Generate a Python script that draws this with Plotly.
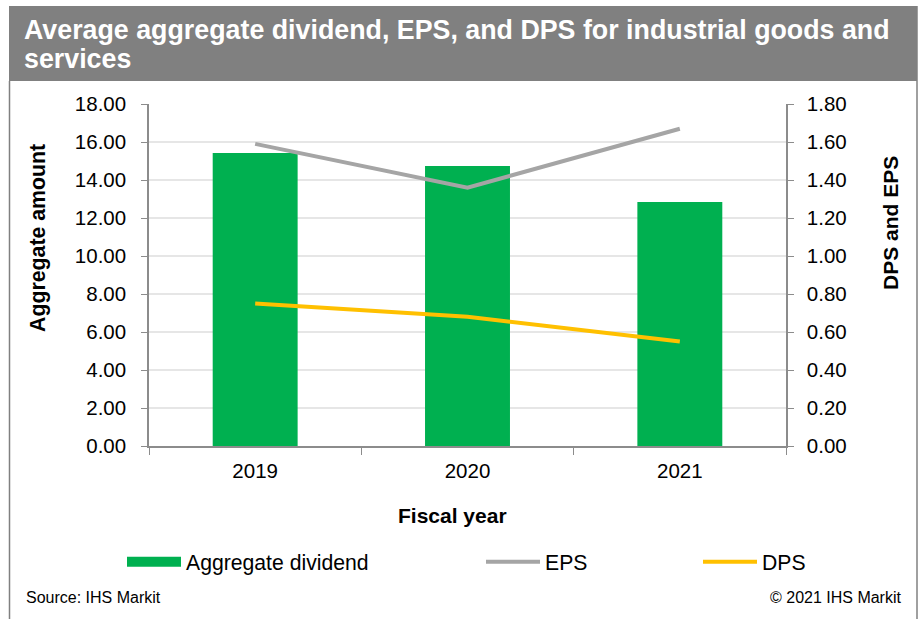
import plotly.graph_objects as go

# Fiscal years and series values
years = ["2019", "2020", "2021"]
aggregate_dividend = [15.42, 14.74, 12.84]
eps = [1.59, 1.36, 1.67]
dps = [0.75, 0.68, 0.55]

left_ticks = [0, 2, 4, 6, 8, 10, 12, 14, 16, 18]
right_ticks = [0, 0.2, 0.4, 0.6, 0.8, 1.0, 1.2, 1.4, 1.6, 1.8]

W, H = 922, 619
L, R, T, B = 149, 136, 104, 173
PW, PH = W - L - R, H - T - B

GREEN = "#00B050"
GREY = "#A5A5A5"
YELLOW = "#FFC000"
AXIS = "#8C8C8C"
FONT = "Liberation Sans, Arial, sans-serif"


def px(xp):
    return (xp - L) / PW


def py(yp):
    return (H - B - yp) / PH


fig = go.Figure()

fig.add_trace(go.Bar(
    x=years, y=aggregate_dividend, name="Aggregate dividend",
    marker=dict(color=GREEN, line=dict(width=0)), width=0.4,
    showlegend=False, hoverinfo="x+y",
))
# legend entry for the bars, drawn as a wide block
fig.add_trace(go.Scatter(
    x=[None], y=[None], mode="lines", name="Aggregate dividend",
    line=dict(color=GREEN, width=12), legend="legend",
))
fig.add_trace(go.Scatter(
    x=years, y=eps, name="EPS", mode="lines", yaxis="y2",
    line=dict(color=GREY, width=4), legend="legend2",
))
fig.add_trace(go.Scatter(
    x=years, y=dps, name="DPS", mode="lines", yaxis="y2",
    line=dict(color=YELLOW, width=4), legend="legend3",
))

legend_common = dict(
    orientation="h", xanchor="left", yanchor="middle",
    bgcolor="rgba(0,0,0,0)", font=dict(family=FONT, size=21.2, color="#000"),
    itemwidth=54,
)

shapes = [
    # header band
    dict(type="rect", xref="paper", yref="paper",
         x0=px(9), x1=px(917), y0=py(81), y1=py(6),
         fillcolor="#808080", line=dict(width=0), layer="below"),
    # frame sides
    dict(type="line", xref="paper", yref="paper",
         x0=px(9.5), x1=px(9.5), y0=py(81), y1=py(619),
         line=dict(color="#808080", width=1.5)),
    dict(type="line", xref="paper", yref="paper",
         x0=px(917), x1=px(917), y0=py(6), y1=py(619),
         line=dict(color="#808080", width=1.5)),
]

annotations = [
    dict(text="<b>Average aggregate dividend, EPS, and DPS for industrial goods and</b>",
         xref="paper", yref="paper", x=px(22), y=py(30), xanchor="left", yanchor="middle",
         showarrow=False, font=dict(family=FONT, size=26.8, color="white")),
    dict(text="<b>services</b>",
         xref="paper", yref="paper", x=px(22), y=py(59), xanchor="left", yanchor="middle",
         showarrow=False, font=dict(family=FONT, size=26.8, color="white")),
    dict(text="<b>Aggregate amount</b>", textangle=-90,
         xref="paper", yref="paper", x=px(38), y=py(238), xanchor="center", yanchor="middle",
         showarrow=False, font=dict(family=FONT, size=21.3, color="#000")),
    dict(text="<b>DPS and EPS</b>", textangle=-90,
         xref="paper", yref="paper", x=px(890), y=py(223), xanchor="center", yanchor="middle",
         showarrow=False, font=dict(family=FONT, size=21, color="#000")),
    dict(text="<b>Fiscal year</b>",
         xref="paper", yref="paper", x=px(452), y=py(515), xanchor="center", yanchor="middle",
         showarrow=False, font=dict(family=FONT, size=21, color="#000")),
    dict(text="Source: IHS Markit",
         xref="paper", yref="paper", x=px(24), y=py(597), xanchor="left", yanchor="middle",
         showarrow=False, font=dict(family=FONT, size=16, color="#000")),
    dict(text="© 2021 IHS Markit",
         xref="paper", yref="paper", x=px(904), y=py(597), xanchor="right", yanchor="middle",
         showarrow=False, font=dict(family=FONT, size=16, color="#000")),
]

fig.update_layout(
    width=W, height=H,
    margin=dict(l=L, r=R, t=T, b=B, autoexpand=False),
    paper_bgcolor="white", plot_bgcolor="white",
    bargap=0.6,
    font=dict(family=FONT, size=20, color="#000"),
    xaxis=dict(
        type="category", showline=True, linecolor=AXIS, linewidth=1.5,
        ticks="outside", tickson="boundaries", ticklen=7, tickcolor=AXIS,
        showgrid=False, tickfont=dict(size=20.5), ticklabelstandoff=6,
    ),
    yaxis=dict(
        range=[0, 18], tickvals=left_ticks, tickformat=".2f",
        showline=True, linecolor=AXIS, linewidth=1.5,
        ticks="outside", ticklen=6, tickcolor=AXIS,
        showgrid=True, gridcolor="#E6E6E6", gridwidth=1.5, zeroline=False,
        tickfont=dict(size=20.5), ticklabelstandoff=11,
    ),
    yaxis2=dict(
        range=[0, 1.8], tickvals=right_ticks, tickformat=".2f",
        overlaying="y", side="right",
        showline=True, linecolor=AXIS, linewidth=1.5,
        ticks="outside", ticklen=6, tickcolor=AXIS,
        showgrid=False, zeroline=False,
        tickfont=dict(size=20.5), ticklabelstandoff=9,
    ),
    legend=dict(x=px(122), y=py(562), **legend_common),
    legend2=dict(x=px(481), y=py(562), **legend_common),
    legend3=dict(x=px(698), y=py(562), **legend_common),
    shapes=shapes,
    annotations=annotations,
)

fig.write_html("out.html")
